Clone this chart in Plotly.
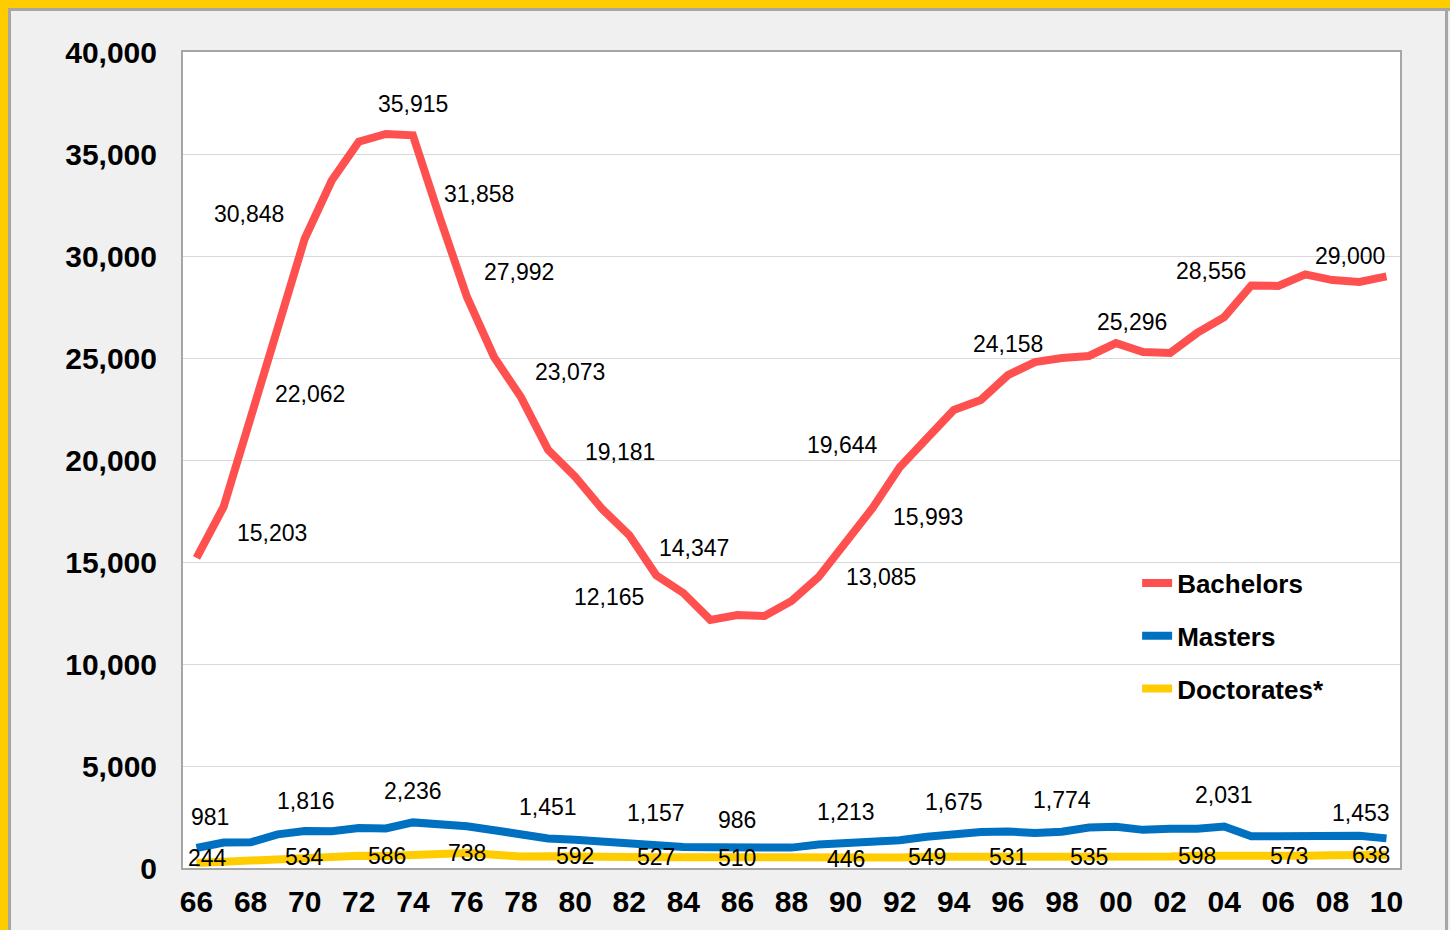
import plotly.graph_objects as go

# Degrees conferred per year, 1966-2010
years = list(range(1966, 2011))
bachelors = [15203, 17700, 22062, 26400, 30848, 33700, 35600, 35980, 35915, 31858,
             27992, 25050, 23073, 20500, 19181, 17600, 16320, 14347, 13480, 12165,
             12400, 12350, 13085, 14260, 15993, 17650, 19644, 20980, 22450, 22940,
             24158, 24800, 25000, 25100, 25730, 25296, 25250, 26230, 27000, 28556,
             28530, 29100, 28820, 28730, 29000]
masters = [981, 1250, 1260, 1650, 1816, 1800, 1960, 1940, 2236, 2150,
           2050, 1850, 1650, 1451, 1380, 1280, 1200, 1157, 1030, 1020,
           986, 980, 1000, 1150, 1213, 1280, 1360, 1530, 1675, 1760,
           1790, 1720, 1774, 1980, 2020, 1870, 1930, 1920, 2031, 1560,
           1560, 1560, 1560, 1580, 1453]
doctorates = [244, 300, 350, 450, 534, 560, 600, 586, 650, 700,
              738, 650, 560, 580, 592, 560, 540, 527, 520, 515,
              510, 480, 460, 450, 446, 480, 520, 549, 540, 535,
              531, 540, 545, 535, 580, 570, 560, 598, 580, 560,
              573, 600, 620, 640, 638]

tick_years = list(range(1966, 2011, 2))
tick_text = [str(y)[-2:] for y in tick_years]

# which years get a value label, with (xshift, yshift) in px
bach_labels = {1966: (75, 25), 1968: (59, 24), 1970: (-56, 25), 1974: (0, 31),
               1975: (39, 24), 1976: (52, 25), 1978: (49, 25), 1980: (45, 25),
               1983: (38, 27), 1985: (-101, 23), 1988: (89, 24), 1990: (82, 25),
               1992: (-57, 22), 1996: (0, 31), 2001: (-11, 30), 2005: (-40, 14),
               2010: (-36, 20)}
mast_labels = {1966: (13, 31), 1970: (1, 30), 1974: (0, 31), 1979: (0, 31),
               1983: (0, 31), 1986: (0, 28), 1990: (0, 31), 1994: (0, 32),
               1998: (0, 32), 2004: (0, 32), 2010: (-25, 25)}
doc_labels = {1966: (11, 5), 1970: (0, 0), 1973: (1, 0), 1976: (0, 0), 1980: (0, 0),
              1983: (0, 0), 1986: (0, 0), 1990: (0, 0), 1993: (0, 0), 1996: (0, 0),
              1999: (0, 0), 2003: (0, 0), 2006: (11, 0), 2010: (-15, 0)}

FONT = "Liberation Sans, Arial, sans-serif"
W, H = 1450, 930
L, R, T, B = 183, 50, 52, 62

fig = go.Figure()
series = [("Bachelors", bachelors, "#FF5050", bach_labels),
          ("Masters", masters, "#0070C0", mast_labels),
          ("Doctorates*", doctorates, "#FFCC00", doc_labels)]

for name, vals, color, labels in series:
    fig.add_trace(go.Scatter(x=years, y=vals, mode="lines", name=name,
                             legendgroup=name,
                             line=dict(color=color, width=8)))
    for yr, (dx, dy) in labels.items():
        v = vals[years.index(yr)]
        fig.add_annotation(x=yr, y=v, text=f"{v:,}", showarrow=False,
                           xshift=dx, yshift=dy,
                           font=dict(family=FONT, size=23, color="black"))


def px_x(p):
    return (p - L) / (W - L - R)


def px_y(p):
    return (H - B - p) / (H - T - B)


# frame: yellow band + grey line on the left and top, grey line on the right
frame = [((0, 8), (0, H), "#FFCC00"), ((0, W), (0, 8), "#FFCC00"),
         ((8, 11), (8, H), "#A6A6A6"), ((8, W), (8, 11), "#A6A6A6"),
         ((1445, 1448), (8, H), "#A6A6A6")]
for (xa, xb), (ya, yb), col in frame:
    fig.add_shape(type="rect", xref="paper", yref="paper", layer="below",
                  x0=px_x(xa), x1=px_x(xb), y0=px_y(yb), y1=px_y(ya),
                  fillcolor=col, line_width=0)

fig.update_layout(
    width=W, height=H,
    margin=dict(l=L, r=R, t=T, b=B),
    paper_bgcolor="#F0F0F0",
    plot_bgcolor="white",
    font=dict(family=FONT, color="black"),
    showlegend=True,
    legend=dict(x=0.784, y=0.378, xanchor="left", yanchor="top",
                bgcolor="rgba(0,0,0,0)", tracegroupgap=16,
                font=dict(family=FONT, size=26, weight="bold", color="black")),
)
fig.update_xaxes(range=[1965.5, 2010.5], tickvals=tick_years, ticktext=tick_text,
                 showgrid=False, showline=True, mirror=True, automargin=False,
                 linecolor="#A6A6A6", linewidth=2, ticks="",
                 ticklabelstandoff=6,
                 tickfont=dict(family=FONT, size=30, weight="bold", color="black"))
fig.update_yaxes(range=[0, 40000], dtick=5000, tickformat=",",
                 showgrid=True, gridcolor="#D9D9D9", gridwidth=1,
                 showline=True, mirror=True, linecolor="#A6A6A6", linewidth=2,
                 ticks="", ticklabelstandoff=18, zeroline=False, automargin=False,
                 tickfont=dict(family=FONT, size=30, weight="bold", color="black"))

# the page has a default 8px body margin; drop it so the figure fills the window
fig.write_html("out.html", config={"displayModeBar": False},
               post_script="document.body.style.margin='0';")
